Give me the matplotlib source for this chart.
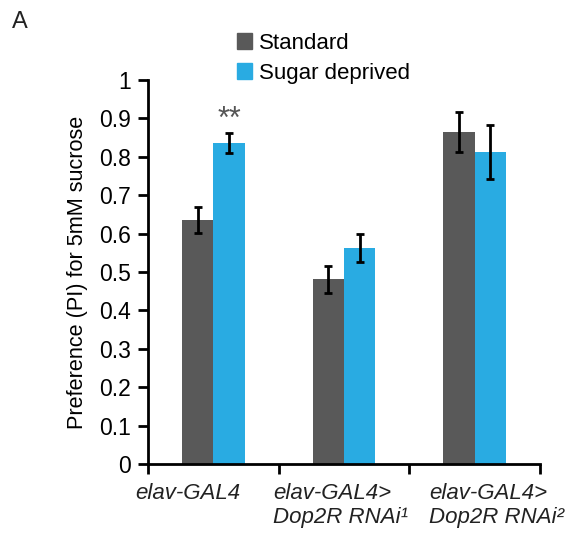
import matplotlib.pyplot as plt
from matplotlib.patches import Patch

plt.rcParams['font.family'] = ['Liberation Sans', 'DejaVu Sans']

groups = ['elav-GAL4', 'elav-GAL4>\nDop2R RNAi¹', 'elav-GAL4>\nDop2R RNAi²']
standard = [0.635, 0.481, 0.865]
standard_err = [0.034, 0.035, 0.052]
deprived = [0.836, 0.563, 0.812]
deprived_err = [0.025, 0.036, 0.070]
series_names = ['Standard', 'Sugar deprived']
yticks = [0, 0.1, 0.2, 0.3, 0.4, 0.5, 0.6, 0.7, 0.8, 0.9, 1]

dark = '#595959'
blue = '#29ABE2'

fig = plt.figure(figsize=(5.66, 5.35), dpi=100)
ax = fig.add_axes([148 / 566, 1 - 464 / 535, 392 / 566, 384 / 535])

x = list(range(len(groups)))
w = 0.24
ekw = dict(ecolor='black', elinewidth=2, capsize=3, capthick=2)
ax.bar([i - w / 2 for i in x], standard, w, color=dark, yerr=standard_err, error_kw=ekw)
ax.bar([i + w / 2 for i in x], deprived, w, color=blue, yerr=deprived_err, error_kw=ekw)

ax.text(0 + w / 2, 0.836 + 0.025 - 0.003, '**', ha='center', va='bottom',
        fontsize=22, color='#555555')

ax.set_xlim(-0.5, 2.5)
ax.set_ylim(0, 1)
ax.set_yticks(yticks)
ax.set_yticklabels([f'{t:g}' for t in yticks], fontsize=16.5)
ax.set_xticks([-0.5, 0.5, 1.5, 2.5])
ax.set_xticklabels([])
ax.tick_params(axis='both', direction='out', length=7, width=2, color='black')
ax.tick_params(axis='y', pad=5)
for s in ['top', 'right']:
    ax.spines[s].set_visible(False)
for s in ['left', 'bottom']:
    ax.spines[s].set_linewidth(2)

ax.set_ylabel('Preference (PI) for 5mM sucrose', fontsize=15.6, labelpad=8)

# group labels, left aligned under each group
label_x = [-0.6, 0.46, 1.65]
for lx, g in zip(label_x, groups):
    ax.text(lx, -0.05, g, ha='left', va='top', fontsize=16, style='italic',
            color='#222222', linespacing=1.15, transform=ax.transData)

handles = [Patch(color=dark), Patch(color=blue)]
fig.legend(handles, series_names, loc='upper left', bbox_to_anchor=(228 / 566, 1 - 24 / 535),
           frameon=False, fontsize=16, handlelength=0.7, handleheight=0.7,
           handletextpad=0.3, labelspacing=0.4, borderaxespad=0)

fig.text(12 / 566, 1 - 22 / 535, 'A', fontsize=17, ha='left', va='center', color='#222222')

fig.savefig('out.png', dpi=100)
